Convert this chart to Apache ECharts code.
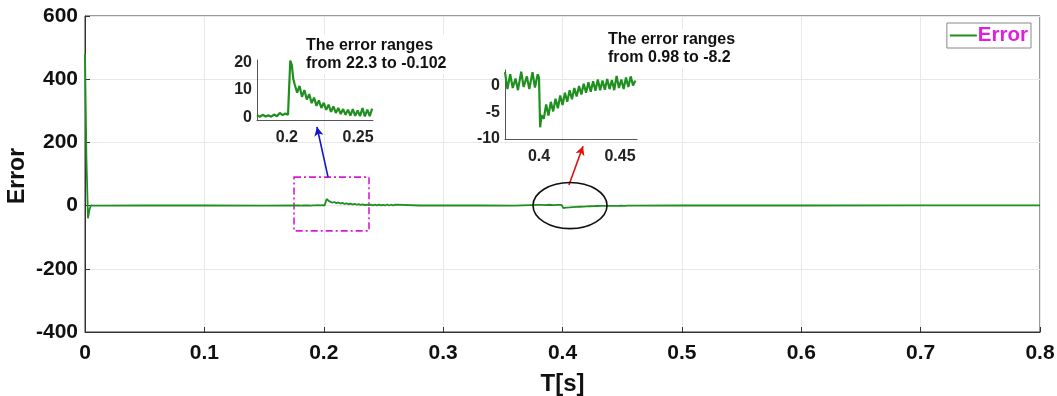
<!DOCTYPE html>
<html><head><meta charset="utf-8">
<script src="https://cdn.jsdelivr.net/npm/echarts@6/dist/echarts.min.js"></script>
<style>html,body{margin:0;padding:0;background:#fff}#c{width:1057px;height:396px}</style>
</head><body><div id="c"></div>
<script>
// ---- data ----
const xTicks = [0, 0.1, 0.2, 0.3, 0.4, 0.5, 0.6, 0.7, 0.8];
const yTicks = [-400, -200, 0, 200, 400, 600];
const startT = [0, 0.0012, 0.0025, 0.0038, 0.005, 0.008, 0.05, 0.1, 0.15];
const startV = [480, 150, -40, -12, 1, 0, 0.3, 0.5, 0.2];
const zoom1T = [0.179,0.181,0.183,0.185,0.187,0.189,0.191,0.193,0.195,0.197,0.199,0.2008,0.2015,0.2024,0.2035,0.2045,
  0.2055,0.2072,0.2089,0.2106,0.2123,0.2140,0.2157,0.2174,0.2191,0.2208,0.2225,0.2242,0.2259,0.2276,0.2293,0.2310,
  0.2327,0.2344,0.2361,0.2378,0.2395,0.2412,0.2429,0.2446,0.2463,0.2480,0.2497,0.2514,0.2531,0.2548,0.2565,0.2582,0.2599];
const zoom1V = [0.8,0.2,0.9,0.3,0.7,0.2,1.0,0.4,1.6,0.8,1.4,0.9,10,20.8,19,14,
  12,9,11.5,7.5,10,6.5,8.5,5.2,7.2,4.2,6.2,3.4,5.3,2.7,4.6,2.0,
  4.0,1.6,3.4,1.2,3.0,0.9,2.8,0.6,3.0,0.5,2.5,0.4,3.4,0.3,2.8,0.4,3.2];
const midT = [0.28, 0.33, 0.36];
const midV = [0.3, 0.6, 0.2];
const zoom2T = [0.379,0.3805,0.3822,0.3838,0.3855,0.387,0.389,0.3905,0.3925,0.394,0.396,0.3975,0.3992,0.4,0.4007,
  0.4015,0.40295,0.4044,0.40585,0.4073,0.40875,0.4102,0.41165,0.4131,0.41455,0.416,0.41745,0.4189,0.42035,0.4218,0.42325,
  0.4247,0.42615,0.4276,0.42905,0.4305,0.43195,0.4334,0.43485,0.4363,0.43775,0.4392,0.44065,0.4421,0.44355,0.445,0.44645,
  0.4479,0.44935,0.4508,0.45225,0.4537,0.45515,0.4566,0.45805,0.4595];
const zoom2V = [2.6,-0.6,2.2,-0.4,1.4,-0.8,2.7,-0.2,1.8,-0.6,2.6,-0.3,2.2,1.5,-7.8,
  -5.5,-6.2,-3.5,-5.6,-3.0,-4.8,-2.4,-4.2,-1.8,-3.6,-1.3,-3.0,-0.8,-2.5,-0.4,-2.0,
  0.0,-1.6,0.4,-1.3,0.7,-1.1,0.9,-0.9,1.2,-0.8,1.0,-0.7,1.3,-0.6,1.1,-0.8,
  1.9,-0.4,1.2,-0.6,1.6,-0.2,1.8,0.1,1.0];
const endT = [0.5, 0.6, 0.7, 0.8];
const endV = [0.6, 0.3, 0.5, 0.4];
const zoom1XTicks = [0.2, 0.25];
const zoom1YTicks = [0, 10, 20];
const zoom2XTicks = [0.4, 0.45];
const zoom2YTicks = [-10, -5, 0];

const zip = (t, v) => t.map((x, i) => [x, v[i]]);
const mainData = [].concat(zip(startT,startV), zip(zoom1T,zoom1V), zip(midT,midV), zip(zoom2T,zoom2V), zip(endT,endV));

const GREEN = '#1f8f1f';
const FONT = '"Liberation Sans", Arial, sans-serif';
const tick = {fontFamily: FONT, fontWeight: 'bold', fontSize: 21, color: '#111'};
const small = {fontFamily: FONT, fontWeight: 'bold', fontSize: 16, color: '#222'};

const chart = echarts.init(document.getElementById('c'), null, {renderer: 'canvas'});
const option = {
  animation: false,
  backgroundColor: '#fff',
  legend: {
    data: ['Error'], right: 26, top: 23, orient: 'vertical',
    backgroundColor: '#fff', borderColor: '#888', borderWidth: 1, padding: [2, 3, 2, 3],
    icon: 'rect', itemWidth: 27, itemHeight: 2, itemGap: 0,
    textStyle: {fontFamily: FONT, fontWeight: 'bold', fontSize: 20.5, color: '#e01ee0', padding: [0, 0, 0, -4]}
  },
  grid: [
    {left: 85, right: 17, top: 16, bottom: 64, show: true, borderColor: '#333', borderWidth: 1, backgroundColor: 'transparent', outerBoundsMode: 'none', containLabel: false},
    {left: 257, top: 60, width: 116, height: 60, show: true, backgroundColor: '#fff', borderWidth: 0, outerBoundsMode: 'none', containLabel: false},
    {left: 505, top: 70, width: 132, height: 69, show: true, backgroundColor: '#fff', borderWidth: 0, outerBoundsMode: 'none', containLabel: false}
  ],
  xAxis: [
    {gridIndex: 0, type: 'value', min: 0, max: 0.8, interval: 0.1,
     name: 'T[s]', nameLocation: 'middle', nameGap: 40,
     nameTextStyle: {fontFamily: FONT, fontWeight: 'bold', fontSize: 24, color: '#111'},
     axisLine: {onZero: false, lineStyle: {color: '#333'}}, axisTick: {inside: true, length: 5, lineStyle: {color: '#333'}},
     axisLabel: Object.assign({margin: 11}, tick),
     splitLine: {show: true, lineStyle: {color: '#e8e8e8'}}},
    {gridIndex: 1, type: 'value', min: 0.179, max: 0.2605,
     axisLine: {onZero: false, lineStyle: {color: '#555'}}, axisTick: {show: false},
     axisLabel: Object.assign({customValues: zoom1XTicks, margin: 10}, small),
     splitLine: {show: false}},
    {gridIndex: 2, type: 'value', min: 0.379, max: 0.4605,
     axisLine: {onZero: false, lineStyle: {color: '#555'}}, axisTick: {show: false},
     axisLabel: Object.assign({customValues: zoom2XTicks, margin: 10}, small),
     splitLine: {show: false}}
  ],
  yAxis: [
    {gridIndex: 0, type: 'value', min: -400, max: 600, interval: 200,
     axisLine: {show: true, onZero: false, lineStyle: {color: '#333'}}, axisTick: {show: true, inside: true, length: 5, lineStyle: {color: '#333'}},
     axisLabel: Object.assign({margin: 7}, tick),
     splitLine: {show: true, lineStyle: {color: '#e8e8e8'}}},
    {gridIndex: 1, type: 'value', min: -1, max: 21,
     axisLine: {show: true, onZero: false, lineStyle: {color: '#555'}}, axisTick: {show: false},
     axisLabel: Object.assign({customValues: zoom1YTicks, margin: 5}, small),
     splitLine: {show: false}},
    {gridIndex: 2, type: 'value', min: -10, max: 3,
     axisLine: {show: true, onZero: false, lineStyle: {color: '#555'}}, axisTick: {show: false},
     axisLabel: Object.assign({customValues: zoom2YTicks, margin: 5}, small),
     splitLine: {show: false}}
  ],
  series: [
    {name: 'Error', type: 'line', xAxisIndex: 0, yAxisIndex: 0, data: mainData, showSymbol: false,
     lineStyle: {color: GREEN, width: 1.8}, itemStyle: {color: GREEN}, z: 3,
     markArea: {silent: true, itemStyle: {color: 'rgba(0,0,0,0)', borderColor: '#d81ad8', borderWidth: 1.6, borderType: [7, 3, 2, 3]},
       data: [[{coord: [0.1751, 90]}, {coord: [0.2379, -80]}]]},
     markLine: {silent: true, symbol: ['none', 'arrow'], symbolSize: [7, 9], label: {show: false},
       data: [
         [{coord: [0.2036, 90], lineStyle: {color: '#1414c8', width: 1.6, type: 'solid'}}, {coord: [0.1943, 249]}],
         [{coord: [0.4054, 65], lineStyle: {color: '#e01010', width: 1.6, type: 'solid'}}, {coord: [0.4172, 188]}]
       ]}},
    {name: 'zoom1', type: 'line', xAxisIndex: 1, yAxisIndex: 1, data: zip(zoom1T, zoom1V), showSymbol: false,
     lineStyle: {color: GREEN, width: 2.2}, z: 5},
    {name: 'zoom2', type: 'line', xAxisIndex: 2, yAxisIndex: 2, data: zip(zoom2T, zoom2V), showSymbol: false,
     lineStyle: {color: GREEN, width: 2.2}, z: 5}
  ],
  graphic: [
    {type: 'text', x: 18, y: 176, rotation: Math.PI / 2, z: 10,
     style: {text: 'Error', fontFamily: FONT, fontWeight: 'bold', fontSize: 23, fill: '#111', align: 'center', verticalAlign: 'middle'}},
    {type: 'text', left: 304, top: 35, z: 10,
     style: {text: 'The error ranges\nfrom 22.3 to -0.102', fontFamily: FONT, fontWeight: 'bold', fontSize: 16, lineHeight: 18.5, fill: '#111', backgroundColor: '#fff', padding: [1, 2]}},
    {type: 'text', left: 606, top: 29, z: 10,
     style: {text: 'The error ranges\nfrom 0.98 to -8.2', fontFamily: FONT, fontWeight: 'bold', fontSize: 16, lineHeight: 18.5, fill: '#111', backgroundColor: '#fff', padding: [1, 2]}}
  ]
};
chart.setOption(option);
// ellipse around the dip at 0.4 (annotation)
const c = chart.convertToPixel({gridIndex: 0}, [0.4063, 0]);
const e = chart.convertToPixel({gridIndex: 0}, [0.4063 + 0.031, -73]);
chart.setOption({graphic: option.graphic.concat([
  {type: 'ellipse', z: 10, silent: true, shape: {cx: c[0], cy: c[1], rx: e[0] - c[0], ry: e[1] - c[1]},
   style: {fill: 'none', stroke: '#111', lineWidth: 1.6}}
])});
</script></body></html>
